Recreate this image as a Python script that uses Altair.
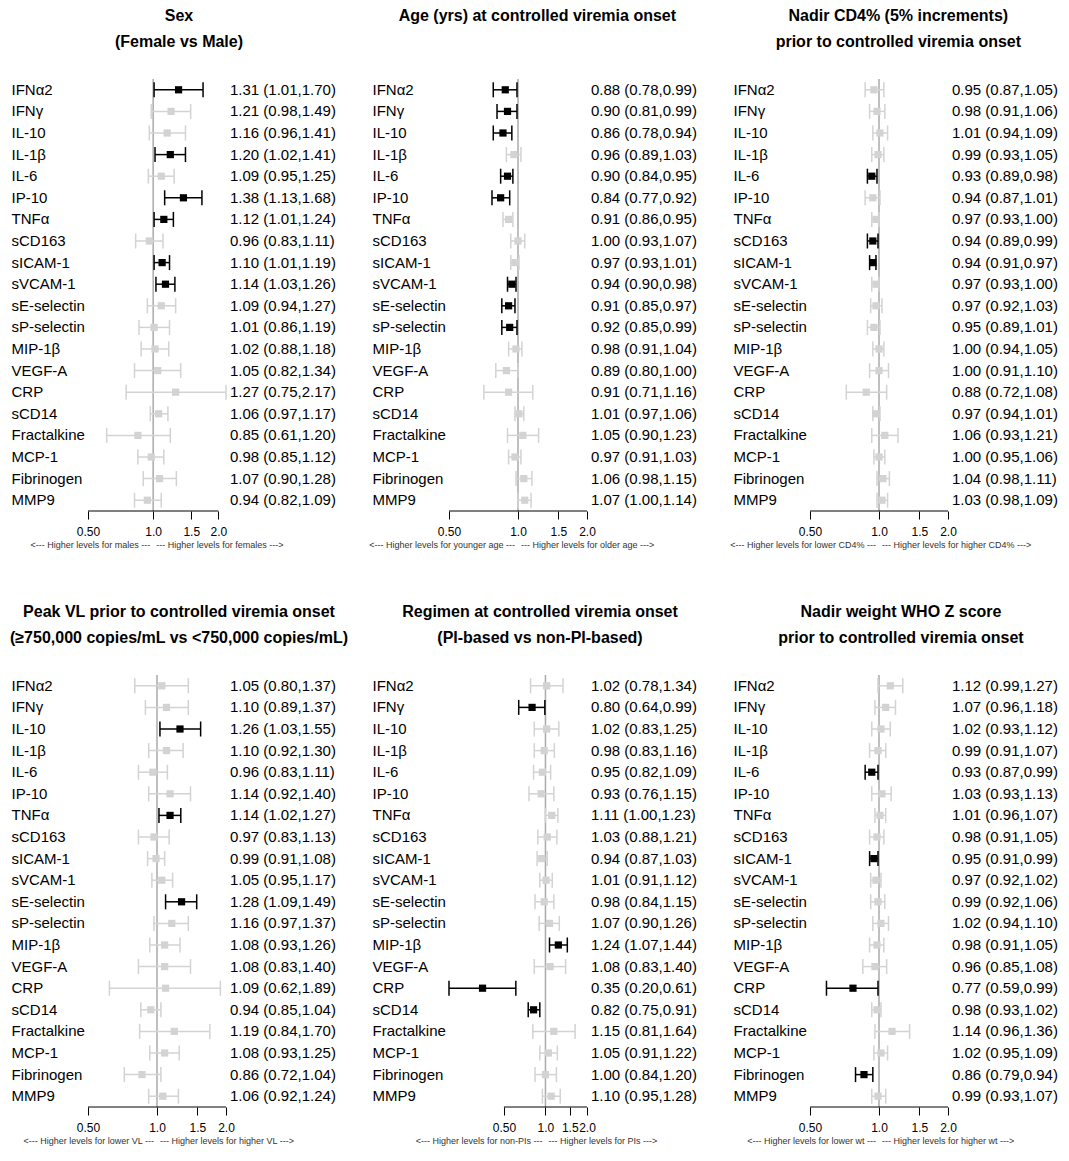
import altair as alt
import pandas as pd

FONT = "Liberation Sans"

markers = ["IFNα2", "IFNγ", "IL-10", "IL-1β", "IL-6", "IP-10", "TNFα", "sCD163",
           "sICAM-1", "sVCAM-1", "sE-selectin", "sP-selectin", "MIP-1β", "VEGF-A",
           "CRP", "sCD14", "Fractalkine", "MCP-1", "Fibrinogen", "MMP9"]

tick_values = [0.5, 1.0, 1.5, 2.0]

# Panel 1: Sex
sex_title = ["Sex", "(Female vs Male)"]
sex_notes = ["<---  Higher levels for males ---", "--- Higher levels for females  --->"]
sex_est = [1.31, 1.21, 1.16, 1.20, 1.09, 1.38, 1.12, 0.96, 1.10, 1.14, 1.09, 1.01, 1.02, 1.05, 1.27, 1.06, 0.85, 0.98, 1.07, 0.94]
sex_lo = [1.01, 0.98, 0.96, 1.02, 0.95, 1.13, 1.01, 0.83, 1.01, 1.03, 0.94, 0.86, 0.88, 0.82, 0.75, 0.97, 0.61, 0.85, 0.90, 0.82]
sex_hi = [1.70, 1.49, 1.41, 1.41, 1.25, 1.68, 1.24, 1.11, 1.19, 1.26, 1.27, 1.19, 1.18, 1.34, 2.17, 1.17, 1.20, 1.12, 1.28, 1.09]
sex_sig = [1, 0, 0, 1, 0, 1, 1, 0, 1, 1, 0, 0, 0, 0, 0, 0, 0, 0, 0, 0]

# Panel 2: Age
age_title = ["Age (yrs) at controlled viremia onset", " "]
age_notes = ["<---  Higher levels for younger age ---", "--- Higher levels for older age  --->"]
age_est = [0.88, 0.90, 0.86, 0.96, 0.90, 0.84, 0.91, 1.00, 0.97, 0.94, 0.91, 0.92, 0.98, 0.89, 0.91, 1.01, 1.05, 0.97, 1.06, 1.07]
age_lo = [0.78, 0.81, 0.78, 0.89, 0.84, 0.77, 0.86, 0.93, 0.93, 0.90, 0.85, 0.85, 0.91, 0.80, 0.71, 0.97, 0.90, 0.91, 0.98, 1.00]
age_hi = [0.99, 0.99, 0.94, 1.03, 0.95, 0.92, 0.95, 1.07, 1.01, 0.98, 0.97, 0.99, 1.04, 1.00, 1.16, 1.06, 1.23, 1.03, 1.15, 1.14]
age_sig = [1, 1, 1, 0, 1, 1, 0, 0, 0, 1, 1, 1, 0, 0, 0, 0, 0, 0, 0, 0]

# Panel 3: Nadir CD4%
cd4_title = ["Nadir CD4% (5% increments)", "prior to controlled viremia onset"]
cd4_notes = ["<---  Higher levels for lower CD4% ---", "--- Higher levels for higher CD4%  --->"]
cd4_est = [0.95, 0.98, 1.01, 0.99, 0.93, 0.94, 0.97, 0.94, 0.94, 0.97, 0.97, 0.95, 1.00, 1.00, 0.88, 0.97, 1.06, 1.00, 1.04, 1.03]
cd4_lo = [0.87, 0.91, 0.94, 0.93, 0.89, 0.87, 0.93, 0.89, 0.91, 0.93, 0.92, 0.89, 0.94, 0.91, 0.72, 0.94, 0.93, 0.95, 0.98, 0.98]
cd4_hi = [1.05, 1.06, 1.09, 1.05, 0.98, 1.01, 1.00, 0.99, 0.97, 1.00, 1.03, 1.01, 1.05, 1.10, 1.08, 1.01, 1.21, 1.06, 1.11, 1.09]
cd4_sig = [0, 0, 0, 0, 1, 0, 0, 1, 1, 0, 0, 0, 0, 0, 0, 0, 0, 0, 0, 0]

# Panel 4: Peak VL
vl_title = ["Peak VL prior to controlled viremia onset", "(≥750,000 copies/mL vs <750,000 copies/mL)"]
vl_notes = ["<---  Higher levels for lower VL ---", "--- Higher levels for higher VL  --->"]
vl_est = [1.05, 1.10, 1.26, 1.10, 0.96, 1.14, 1.14, 0.97, 0.99, 1.05, 1.28, 1.16, 1.08, 1.08, 1.09, 0.94, 1.19, 1.08, 0.86, 1.06]
vl_lo = [0.80, 0.89, 1.03, 0.92, 0.83, 0.92, 1.02, 0.83, 0.91, 0.95, 1.09, 0.97, 0.93, 0.83, 0.62, 0.85, 0.84, 0.93, 0.72, 0.92]
vl_hi = [1.37, 1.37, 1.55, 1.30, 1.11, 1.40, 1.27, 1.13, 1.08, 1.17, 1.49, 1.37, 1.26, 1.40, 1.89, 1.04, 1.70, 1.25, 1.04, 1.24]
vl_sig = [0, 0, 1, 0, 0, 0, 1, 0, 0, 0, 1, 0, 0, 0, 0, 0, 0, 0, 0, 0]

# Panel 5: Regimen
pi_title = ["Regimen at controlled viremia onset", "(PI-based vs non-PI-based)"]
pi_notes = ["<---  Higher levels for non-PIs ---", "--- Higher levels for PIs  --->"]
pi_est = [1.02, 0.80, 1.02, 0.98, 0.95, 0.93, 1.11, 1.03, 0.94, 1.01, 0.98, 1.07, 1.24, 1.08, 0.35, 0.82, 1.15, 1.05, 1.00, 1.10]
pi_lo = [0.78, 0.64, 0.83, 0.83, 0.82, 0.76, 1.00, 0.88, 0.87, 0.91, 0.84, 0.90, 1.07, 0.83, 0.20, 0.75, 0.81, 0.91, 0.84, 0.95]
pi_hi = [1.34, 0.99, 1.25, 1.16, 1.09, 1.15, 1.23, 1.21, 1.03, 1.12, 1.15, 1.26, 1.44, 1.40, 0.61, 0.91, 1.64, 1.22, 1.20, 1.28]
pi_sig = [0, 1, 0, 0, 0, 0, 0, 0, 0, 0, 0, 0, 1, 0, 1, 1, 0, 0, 0, 0]

# Panel 6: Nadir weight
wt_title = ["Nadir weight WHO Z score", "prior to controlled viremia onset"]
wt_notes = ["<---  Higher levels for lower wt ---", "--- Higher levels for higher wt  --->"]
wt_est = [1.12, 1.07, 1.02, 0.99, 0.93, 1.03, 1.01, 0.98, 0.95, 0.97, 0.99, 1.02, 0.98, 0.96, 0.77, 0.98, 1.14, 1.02, 0.86, 0.99]
wt_lo = [0.99, 0.96, 0.93, 0.91, 0.87, 0.93, 0.96, 0.91, 0.91, 0.92, 0.92, 0.94, 0.91, 0.85, 0.59, 0.93, 0.96, 0.95, 0.79, 0.93]
wt_hi = [1.27, 1.18, 1.12, 1.07, 0.99, 1.13, 1.07, 1.05, 0.99, 1.02, 1.06, 1.10, 1.05, 1.08, 0.99, 1.02, 1.36, 1.09, 0.94, 1.07]
wt_sig = [0, 0, 0, 0, 1, 0, 0, 0, 1, 0, 0, 0, 0, 0, 1, 0, 0, 0, 1, 0]

W = 249       # panel width (forest + estimate column)
FW = 138      # forest plot width
H = 432       # panel height
LABEL_PAD = 77
BLACK = "#000000"
GREY = "#d3d3d3"


def panel(title, notes, est, lo, hi, sig):
    df = pd.DataFrame({
        "marker": markers, "est": est, "lo": lo, "hi": hi,
        "col": [BLACK if s else GREY for s in sig],
        "label": [f"{e:.2f} ({l:.2f},{h:.2f})" for e, l, h in zip(est, lo, hi)],
    })
    dlo = min(tick_values[0], min(lo))
    dhi = max(tick_values[-1], max(hi))
    xs = alt.Scale(type="log", domain=[dlo, dhi], range=[0, FW], nice=False, zero=False)
    xa = alt.Axis(values=tick_values, title=None, grid=False, domain=False,
                  tickSize=8, tickColor="black", tickWidth=1,
                  labelExpr="datum.value == 0.5 ? '0.50' : format(datum.value, '.1f')",
                  labelFontSize=12, labelColor="black", labelFont=FONT,
                  labelPadding=7, labelOverlap=False, labelFlush=False)
    ya = alt.Axis(title=None, labelAlign="left", labelPadding=LABEL_PAD, ticks=False, tickSize=0,
                  domain=False, grid=False, labelFontSize=15, labelColor="black",
                  labelFont=FONT, labelBaseline="middle")
    y = alt.Y("marker:N", sort=markers, axis=ya,
              scale=alt.Scale(paddingInner=0, paddingOuter=0))
    col = alt.Color("col:N", scale=None, legend=None)

    one = pd.DataFrame({"v": [1.0]})
    bounds = pd.DataFrame({"a": [tick_values[0]], "b": [tick_values[-1]]})
    base = alt.Chart(df)

    ref = alt.Chart(one).mark_rule(color="#aaaaaa", strokeWidth=1.5).encode(
        x=alt.X("v:Q", scale=xs, axis=xa), y=alt.value(0), y2=alt.value(H))
    ci = base.mark_rule(strokeWidth=1.5).encode(
        x=alt.X("lo:Q", scale=xs, axis=xa), x2="hi:Q", y=y, color=col)
    cap_lo = base.mark_tick(thickness=1.5, size=15, opacity=1).encode(
        x=alt.X("lo:Q", scale=xs, axis=xa), y=y, color=col)
    cap_hi = base.mark_tick(thickness=1.5, size=15, opacity=1).encode(
        x=alt.X("hi:Q", scale=xs, axis=xa), y=y, color=col)
    box = base.mark_square(size=52, opacity=1, filled=True).encode(
        x=alt.X("est:Q", scale=xs, axis=xa), y=y, color=col)
    txt = base.mark_text(align="left", baseline="middle", fontSize=15,
                         color="black", font=FONT).encode(
        x=alt.value(FW + 4), y=y, text="label:N")
    axline = alt.Chart(bounds).mark_rule(color="black", strokeWidth=1).encode(
        x=alt.X("a:Q", scale=xs, axis=xa), x2="b:Q", y=alt.value(H))
    note_l = alt.Chart(one).mark_text(align="right", baseline="middle", dx=-3,
                                      fontSize=9, color="#333333", font=FONT).encode(
        x=alt.X("v:Q", scale=xs, axis=xa), y=alt.value(H + 34), text=alt.value(notes[0]))
    note_r = alt.Chart(one).mark_text(align="left", baseline="middle", dx=3,
                                      fontSize=9, color="#333333", font=FONT).encode(
        x=alt.X("v:Q", scale=xs, axis=xa), y=alt.value(H + 34), text=alt.value(notes[1]))

    return alt.layer(ref, ci, cap_lo, cap_hi, box, txt, axline, note_l, note_r).properties(
        width=W, height=H,
        title=alt.TitleParams(text=title[0], subtitle=title[1],
                              fontSize=16, fontWeight="bold", font=FONT, color="black",
                              subtitleFontSize=16, subtitleFontWeight="bold",
                              subtitleFont=FONT, subtitleColor="black",
                              subtitlePadding=10, dx=5,
                              anchor="middle", frame="bounds", offset=28))


panels = [
    panel(sex_title, sex_notes, sex_est, sex_lo, sex_hi, sex_sig),
    panel(age_title, age_notes, age_est, age_lo, age_hi, age_sig),
    panel(cd4_title, cd4_notes, cd4_est, cd4_lo, cd4_hi, cd4_sig),
    panel(vl_title, vl_notes, vl_est, vl_lo, vl_hi, vl_sig),
    panel(pi_title, pi_notes, pi_est, pi_lo, pi_hi, pi_sig),
    panel(wt_title, wt_notes, wt_est, wt_lo, wt_hi, wt_sig),
]

chart = alt.concat(*panels, columns=3, spacing={"row": 164, "column": 112},
                   bounds="flush").properties(
    padding={"left": 1, "top": 0, "right": 0, "bottom": 0}
).configure(font=FONT).configure_view(stroke=None)

chart.save("out.html", embed_options={"renderer": "svg", "actions": False})
